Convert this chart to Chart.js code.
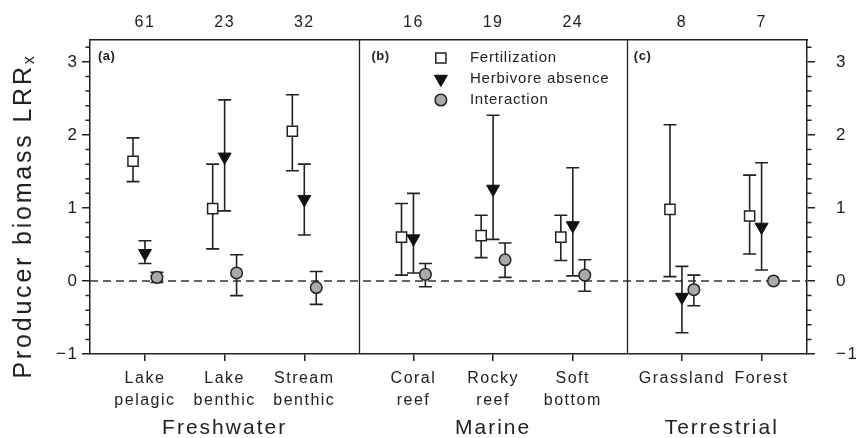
<!DOCTYPE html>
<html>
<head>
<meta charset="utf-8">
<script src="https://cdn.jsdelivr.net/npm/chart.js@4/dist/chart.umd.min.js"></script>
<style>
  body { margin: 0; background: #fff; }
  canvas { display: block; }
</style>
</head>
<body>
<canvas id="lrrChart" width="860" height="438"></canvas>
<script>
// categories, grouped by system
var categories = [['Lake', 'pelagic'], ['Lake', 'benthic'], ['Stream', 'benthic'],
    ['Coral', 'reef'], ['Rocky', 'reef'], ['Soft', 'bottom'], 'Grassland', 'Forest'];
var groupOf = [0, 0, 0, 1, 1, 1, 2, 2];
var groups = ['Freshwater', 'Marine', 'Terrestrial'];
var panelNames = ['(a)', '(b)', '(c)'];
var sampleSizes = [61, 23, 32, 16, 19, 24, 8, 7];
var yTicks = [-1, 0, 1, 2, 3];

// Fertilization
var fertMean = [1.64, 0.99, 2.05, 0.60, 0.62, 0.60, 0.98, 0.89];
var fertLow  = [1.36, 0.44, 1.51, 0.08, 0.32, 0.28, 0.06, 0.37];
var fertHigh = [1.96, 1.60, 2.55, 1.06, 0.90, 0.90, 2.14, 1.45];

// Herbivore absence
var herbMean = [0.38, 1.70, 1.12, 0.58, 1.26, 0.76, -0.22, 0.74];
var herbLow  = [0.24, 0.96, 0.63, 0.11, 0.57, 0.07, -0.71, 0.15];
var herbHigh = [0.55, 2.48, 1.60, 1.20, 2.27, 1.55, 0.20, 1.62];

// Interaction
var interMean = [0.05, 0.11, -0.09, 0.09, 0.29, 0.08, -0.12, 0.00];
var interLow  = [-0.02, -0.20, -0.32, -0.08, 0.05, -0.14, -0.34, null];
var interHigh = [0.12, 0.36, 0.13, 0.24, 0.52, 0.29, 0.08, null];

var ink = '#222';
var font = "'Liberation Sans', Arial, sans-serif";

// x position of each category: one unit apart, extra gap between systems
var positions = categories.map((c, i) => 0.69 + i + groupOf[i] * 0.37);

function points(mean, low, high, shift) {
    return mean.map((m, i) => ({ x: positions[i] + shift, y: m, lo: low[i], hi: high[i] }));
}

var decor = {
    id: 'decor',
    beforeDraw(chart) {
        chart.ctx.letterSpacing = '1.5px';
    },
    beforeDatasetsDraw(chart) {
        const { ctx, chartArea: a, scales: { x, y } } = chart;
        ctx.save();

        // zero line
        const y0 = y.getPixelForValue(0);
        ctx.strokeStyle = '#333';
        ctx.lineWidth = 1.3;
        ctx.setLineDash([8, 5]);
        ctx.beginPath();
        ctx.moveTo(a.left, y0);
        ctx.lineTo(a.right, y0);
        ctx.stroke();
        ctx.setLineDash([]);

        // panel separators
        ctx.strokeStyle = ink;
        ctx.lineWidth = 1.3;
        for (let i = 1; i < positions.length; i++) {
            if (groupOf[i] !== groupOf[i - 1]) {
                const sx = Math.round(x.getPixelForValue((positions[i] + positions[i - 1]) / 2)) + 0.5;
                ctx.beginPath();
                ctx.moveTo(sx, a.top);
                ctx.lineTo(sx, a.bottom);
                ctx.stroke();
            }
        }

        // error bars
        ctx.lineWidth = 1.6;
        chart.data.datasets.forEach(ds => {
            ds.data.forEach(p => {
                if (p.lo == null) return;
                const px = x.getPixelForValue(p.x);
                const top = y.getPixelForValue(p.hi);
                const bot = y.getPixelForValue(p.lo);
                ctx.beginPath();
                ctx.moveTo(px, top);
                ctx.lineTo(px, bot);
                ctx.moveTo(px - 6.5, top);
                ctx.lineTo(px + 6.5, top);
                ctx.moveTo(px - 6.5, bot);
                ctx.lineTo(px + 6.5, bot);
                ctx.stroke();
            });
        });
        ctx.restore();
    },
    afterDraw(chart) {
        const { ctx, chartArea: a, scales: { x, y } } = chart;
        ctx.save();

        // minor ticks on both sides
        ctx.strokeStyle = ink;
        ctx.lineWidth = 1.5;
        for (let k = -5; k <= 16; k++) {
            if (k % 5 === 0) continue;
            const py = y.getPixelForValue(k / 5);
            ctx.beginPath();
            ctx.moveTo(a.left - 4.5, py);
            ctx.lineTo(a.left, py);
            ctx.moveTo(a.right, py);
            ctx.lineTo(a.right + 4.5, py);
            ctx.stroke();
        }

        // panel letters
        const panelLeft = [a.left + 8];
        for (let i = 1; i < positions.length; i++) {
            if (groupOf[i] !== groupOf[i - 1]) {
                panelLeft.push(x.getPixelForValue((positions[i] + positions[i - 1]) / 2));
            }
        }
        const letterShift = [0, 12.5, 6.5];
        ctx.fillStyle = ink;
        ctx.font = 'bold 13px ' + font;
        ctx.letterSpacing = '0.5px';
        ctx.textBaseline = 'middle';
        ctx.textAlign = 'left';
        panelNames.forEach((t, i) => ctx.fillText(t, panelLeft[i] + letterShift[i], a.top + 16));

        // legend inside panel (b)
        const lx = panelLeft[1] + 82;
        ctx.font = '15px ' + font;
        ctx.letterSpacing = '0.8px';
        chart.data.datasets.forEach((ds, i) => {
            const ly = a.top + 18 + i * 21;
            ctx.fillStyle = ds.backgroundColor;
            ctx.strokeStyle = ds.borderColor;
            ctx.lineWidth = ds.borderWidth;
            Chart.helpers.drawPoint(ctx, {
                pointStyle: ds.pointStyle, rotation: ds.rotation || 0,
                radius: ds.pointRadius, borderWidth: ds.borderWidth
            }, lx, ly);
            ctx.fillStyle = ink;
            ctx.fillText(ds.label, lx + 29, ly);
        });

        // system names under the axis
        ctx.font = '21px ' + font;
        ctx.letterSpacing = '2px';
        ctx.textAlign = 'center';
        groups.forEach((g, gi) => {
            const idx = positions.filter((p, i) => groupOf[i] === gi);
            const mid = (idx[0] + idx[idx.length - 1]) / 2;
            ctx.fillText(g, x.getPixelForValue(mid), 428);
        });

        // y title with subscript
        ctx.translate(22, 216);
        ctx.rotate(-Math.PI / 2);
        ctx.letterSpacing = '2.8px';
        ctx.textBaseline = 'alphabetic';
        const main = 'Producer biomass LRR';
        ctx.font = '16px ' + font;
        const subW = ctx.measureText('x').width;
        ctx.font = '25px ' + font;
        const mainW = ctx.measureText(main).width;
        const start = -(mainW + subW) / 2;
        ctx.textAlign = 'left';
        ctx.fillText(main, start, 9);
        ctx.font = '16px ' + font;
        ctx.fillText('x', start + mainW, 12);

        ctx.restore();
    }
};

var ctx = document.getElementById('lrrChart').getContext('2d');

var lrrChart = new Chart(ctx, {
    type: 'scatter',
    data: {
        datasets: [{
            label: 'Fertilization',
            data: points(fertMean, fertLow, fertHigh, -0.15),
            pointStyle: 'rect',
            pointRadius: 7.2,
            backgroundColor: '#fff',
            borderColor: ink,
            borderWidth: 1.5
        }, {
            label: 'Herbivore absence',
            data: points(herbMean, herbLow, herbHigh, 0),
            pointStyle: 'triangle',
            rotation: 180,
            pointRadius: 7.5,
            backgroundColor: '#111',
            borderColor: '#111',
            borderWidth: 1
        }, {
            label: 'Interaction',
            data: points(interMean, interLow, interHigh, 0.15),
            pointStyle: 'circle',
            pointRadius: 5.8,
            backgroundColor: '#aaaaaa',
            borderColor: ink,
            borderWidth: 1.5
        }]
    },
    options: {
        responsive: false,
        devicePixelRatio: 1,
        animation: false,
        layout: { padding: 0 },
        plugins: {
            legend: { display: false },
            tooltip: { enabled: false }
        },
        scales: {
            x: {
                type: 'linear',
                position: 'bottom',
                min: 0,
                max: 9,
                afterBuildTicks: scale => { scale.ticks = positions.map(v => ({ value: v })); },
                afterFit: scale => { scale.height = 84; },
                ticks: {
                    autoSkip: false,
                    maxRotation: 0,
                    padding: 6,
                    color: ink,
                    font: { family: font, size: 16, lineHeight: 1.4 },
                    callback: (v, i) => categories[i]
                },
                grid: { drawOnChartArea: false, tickLength: 7, tickColor: ink, lineWidth: 1.5 },
                border: { display: true, color: ink, width: 1.5 }
            },
            xTop: {
                type: 'linear',
                position: 'top',
                min: 0,
                max: 9,
                afterBuildTicks: scale => { scale.ticks = positions.map(v => ({ value: v })); },
                afterFit: scale => { scale.height = 40; },
                ticks: {
                    autoSkip: false,
                    maxRotation: 0,
                    padding: 0,
                    color: ink,
                    font: { family: font, size: 16 },
                    callback: (v, i) => String(sampleSizes[i])
                },
                grid: { display: false },
                border: { display: true, color: ink, width: 1.5 }
            },
            y: {
                position: 'left',
                min: -1,
                max: 3.3,
                afterBuildTicks: scale => { scale.ticks = yTicks.map(v => ({ value: v })); },
                afterFit: scale => { scale.width = 90; },
                ticks: {
                    padding: 3.5,
                    color: ink,
                    font: { family: font, size: 17 },
                    callback: v => v < 0 ? '\u2212' + Math.abs(v) : String(v)
                },
                grid: { drawOnChartArea: false, tickLength: 8, tickColor: ink, lineWidth: 1.5 },
                border: { display: true, color: ink, width: 1.5 }
            },
            y2: {
                position: 'right',
                min: -1,
                max: 3.3,
                afterBuildTicks: scale => { scale.ticks = yTicks.map(v => ({ value: v })); },
                afterFit: scale => { scale.width = 53; },
                ticks: {
                    padding: 21,
                    color: ink,
                    font: { family: font, size: 17 },
                    callback: v => v < 0 ? '\u2212' + Math.abs(v) : String(v)
                },
                grid: { drawOnChartArea: false, tickLength: 8, tickColor: ink, lineWidth: 1.5 },
                border: { display: true, color: ink, width: 1.5 }
            }
        }
    },
    plugins: [decor]
});
</script>
</body>
</html>
